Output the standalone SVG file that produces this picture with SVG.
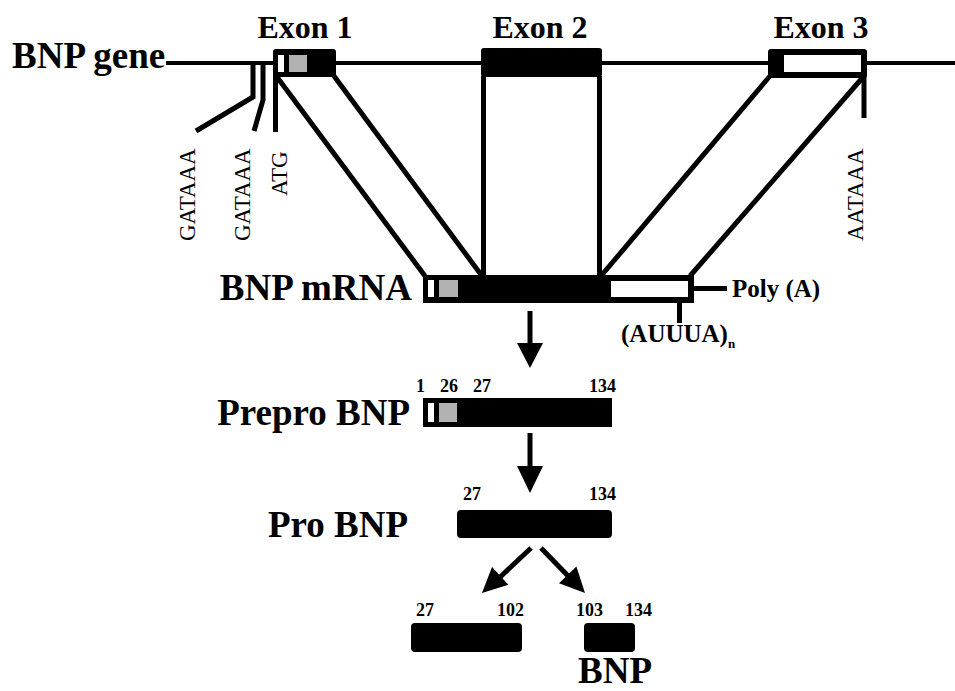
<svg xmlns="http://www.w3.org/2000/svg" width="955" height="691" viewBox="0 0 955 691">
<style>
.lbl{font-family:"Liberation Serif","Times New Roman",serif;font-weight:bold;font-size:37px;fill:#000}
.ex{font-family:"Liberation Serif","Times New Roman",serif;font-weight:bold;font-size:32px;fill:#000;text-anchor:middle}
.seq{font-family:"Liberation Serif","Times New Roman",serif;font-size:23px;fill:#000}
.num{font-family:"Liberation Serif","Times New Roman",serif;font-weight:bold;font-size:18px;fill:#000}
.sm{font-family:"Liberation Serif","Times New Roman",serif;font-weight:bold;font-size:25px;fill:#000}
.ln{stroke:#000;stroke-width:5;fill:none;stroke-linecap:butt}
.thin{stroke:#000;stroke-width:4;fill:none}
.blk{fill:#000}
.wht{fill:#fff}
.gry{fill:#b2b2b2}
</style>
<rect width="955" height="691" fill="#fff"/>
<g id="gene">
<text class="lbl" x="12" y="68">BNP gene</text>
<line class="thin" x1="166" y1="63" x2="955" y2="63"/>
</g>
<g id="exon1">
<text class="ex" x="305" y="38">Exon 1</text>
<rect class="blk" x="273" y="49" width="63" height="28" rx="3"/>
<rect class="wht" x="278" y="55" width="6" height="17"/>
<rect class="gry" x="289" y="55" width="18" height="17"/>
</g>
<g id="exon2">
<text class="ex" x="540" y="38">Exon 2</text>
<rect class="blk" x="481" y="48" width="121" height="29" rx="3"/>
</g>
<g id="exon3">
<text class="ex" x="821" y="38">Exon 3</text>
<rect class="blk" x="768" y="49" width="99" height="29" rx="3"/>
<rect class="wht" x="784" y="55" width="77" height="17"/>
</g>
<g id="gataaa1">
<polyline class="ln" points="253,63 253,97 196,131"/>
<text class="seq" transform="translate(195,241) rotate(-90)">GATAAA</text>
</g>
<g id="gataaa2">
<polyline class="ln" points="263,63 263,100 254,131"/>
<text class="seq" transform="translate(250,241) rotate(-90)">GATAAA</text>
</g>
<g id="atg">
<line class="ln" x1="275.5" y1="63" x2="275.5" y2="132"/>
<text class="seq" transform="translate(287,196) rotate(-90)">ATG</text>
</g>
<g id="aataaa">
<line class="ln" x1="864" y1="75" x2="864" y2="118"/>
<text class="seq" transform="translate(863,241) rotate(-90)">AATAAA</text>
</g>
<g id="connectors">
<line class="ln" x1="277" y1="77" x2="425" y2="276"/>
<line class="ln" x1="334" y1="76" x2="482" y2="276"/>
<line class="ln" x1="483.5" y1="76" x2="483.5" y2="276"/>
<line class="ln" x1="599.5" y1="76" x2="599.5" y2="276"/>
<line class="ln" x1="770" y1="76" x2="601" y2="276"/>
<line class="ln" x1="864" y1="76" x2="690" y2="276"/>
<line class="ln" x1="530" y1="311" x2="530" y2="346"/>
<polygon class="blk" points="517,343 543,343 530,368"/>
<line class="ln" x1="530" y1="433" x2="530" y2="469"/>
<polygon class="blk" points="517,466 543,466 530,493"/>
<line class="ln" x1="531" y1="548" x2="497" y2="580"/>
<polygon class="blk" points="482,593 492,567 508.4,584.7"/>
<line class="ln" x1="541" y1="548" x2="572" y2="580"/>
<polygon class="blk" points="585,593 559,583.2 576.4,566.6"/>
</g>
<g id="mrna">
<text class="lbl" x="412" y="300" text-anchor="end">BNP mRNA</text>
<rect class="blk" x="423" y="275" width="271" height="28"/>
<rect class="wht" x="428" y="280" width="6" height="17"/>
<rect class="gry" x="439" y="280" width="19" height="17"/>
<rect class="wht" x="611" y="281" width="77" height="16"/>
</g>
<g id="polya">
<line class="ln" x1="692" y1="288.5" x2="727" y2="288.5"/>
<text class="sm" x="732" y="297">Poly (A)</text>
</g>
<g id="auuua">
<line class="ln" x1="679.5" y1="301" x2="679.5" y2="323"/>
<text class="sm" x="621" y="342">(AUUUA)<tspan font-size="13" dy="6">n</tspan></text>
</g>
<g id="prepro">
<text class="lbl" x="410" y="425" text-anchor="end">Prepro BNP</text>
<rect class="blk" x="423" y="398" width="189" height="29"/>
<rect class="wht" x="428" y="403" width="6" height="19"/>
<rect class="gry" x="439" y="403" width="18" height="19"/>
<text class="num" x="416" y="392">1</text>
<text class="num" x="440" y="392">26</text>
<text class="num" x="473" y="392">27</text>
<text class="num" x="589" y="392">134</text>
</g>
<g id="pro">
<text class="lbl" x="408" y="537" text-anchor="end">Pro BNP</text>
<rect class="blk" x="457" y="510" width="155" height="28" rx="4"/>
<text class="num" x="463" y="500">27</text>
<text class="num" x="589" y="500">134</text>
</g>
<g id="frag">
<rect class="blk" x="411" y="623" width="111" height="29" rx="4"/>
<text class="num" x="416" y="616">27</text>
<text class="num" x="497" y="616">102</text>
</g>
<g id="bnp">
<rect class="blk" x="584" y="623" width="51" height="29" rx="4"/>
<text class="num" x="576" y="616">103</text>
<text class="num" x="625" y="616">134</text>
<text class="lbl" x="578" y="683" font-size="36">BNP</text>
</g>
</svg>
